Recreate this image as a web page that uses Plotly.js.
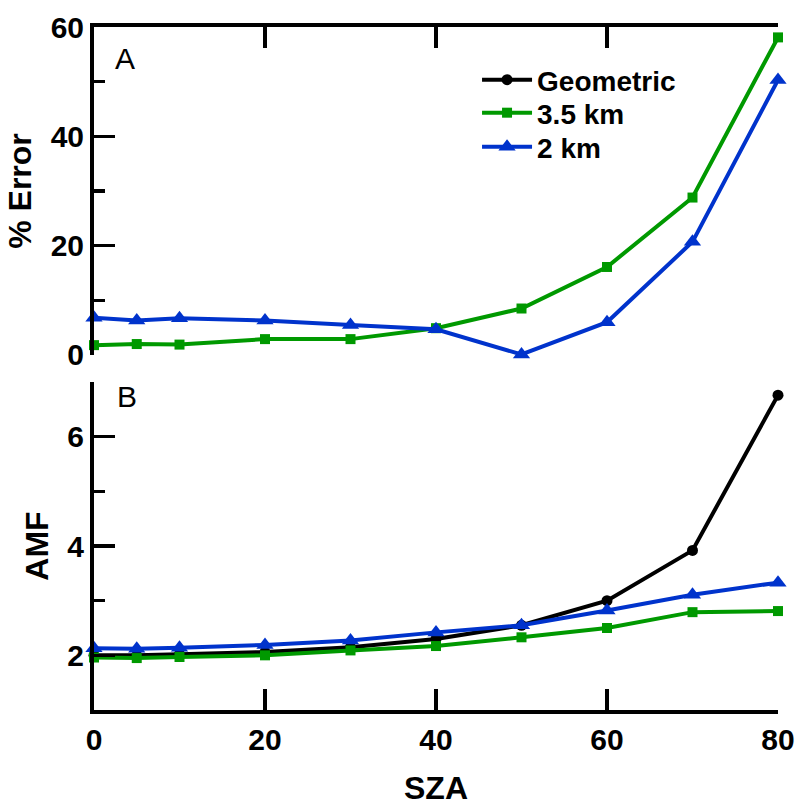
<!DOCTYPE html>
<html>
<head>
<meta charset="utf-8">
<script src="https://cdn.plot.ly/plotly-3.0.1.min.js"></script>
<style>html,body{margin:0;padding:0;background:#fff;}#chart{width:796px;height:806px;}</style>
</head>
<body>
<div id="chart"></div>
<script>
// SZA values (degrees)
const sza = [0, 5, 10, 20, 30, 40, 50, 60, 70, 80];

// Panel A: % Error
const errorKm35 = [1.8, 2.0, 1.9, 2.9, 2.9, 4.9, 8.5, 16.1, 28.8, 58.1];
const errorKm2  = [6.8, 6.3, 6.7, 6.3, 5.5, 4.7, 0.1, 6.0, 20.7, 50.3];

// Panel B: AMF
const amfGeometric = [2.0, 2.0, 2.02, 2.06, 2.15, 2.3, 2.55, 3.0, 3.92, 6.76];
const amfKm35      = [1.96, 1.95, 1.97, 2.0, 2.09, 2.17, 2.33, 2.5, 2.79, 2.81];
const amfKm2       = [2.13, 2.12, 2.14, 2.19, 2.27, 2.42, 2.55, 2.82, 3.11, 3.33];

const seriesNames = ["Geometric", "3.5 km", "2 km"];
const xTicks = [0, 20, 40, 60, 80];

const BLACK = "#000000", GREEN = "#009900", BLUE = "#0033cc";
const FONT = "Liberation Sans, Arial, Helvetica, sans-serif";
const LW = 4;

const traces = [
  {x: sza, y: amfGeometric, xaxis: "x", yaxis: "y2", name: seriesNames[0], mode: "lines+markers", legend: "legend",
   line: {color: BLACK, width: LW}, marker: {symbol: "circle", size: 11, color: BLACK}, cliponaxis: false},
  {x: sza, y: amfKm35, xaxis: "x", yaxis: "y2", name: seriesNames[1], mode: "lines+markers", legend: "legend2",
   line: {color: GREEN, width: LW}, marker: {symbol: "square", size: 10, color: GREEN}, cliponaxis: false},
  {x: sza, y: amfKm2, xaxis: "x", yaxis: "y2", name: seriesNames[2], mode: "lines+markers", legend: "legend3",
   line: {color: BLUE, width: LW}, marker: {symbol: "triangle-up", size: 15, color: BLUE}, cliponaxis: false},
  {x: sza, y: errorKm35, xaxis: "x2", yaxis: "y", name: seriesNames[1], mode: "lines+markers", showlegend: false,
   line: {color: GREEN, width: LW}, marker: {symbol: "square", size: 10, color: GREEN}, cliponaxis: false},
  {x: sza, y: errorKm2, xaxis: "x2", yaxis: "y", name: seriesNames[2], mode: "lines+markers", showlegend: false,
   line: {color: BLUE, width: LW}, marker: {symbol: "triangle-up", size: 15, color: BLUE}, cliponaxis: false}
];

const tickFont = {family: FONT, size: 30, color: "#000", weight: "bold"};
const titleFont = {family: FONT, size: 32, color: "#000", weight: "bold"};
const TOPDOM = [0.5198, 1];
const BOTDOM = [0, 0.4802];

const baseAxis = {showgrid: false, zeroline: false, showline: true, linecolor: "#000", linewidth: 4,
  ticks: "inside", tickcolor: "#000", tickwidth: 3.5, ticklen: 21, tickfont: tickFont};

function legendAt(y) {
  return {x: 0.56, y: y, xanchor: "left", yanchor: "middle", bgcolor: "rgba(0,0,0,0)",
    font: {family: FONT, size: 28, color: "#000", weight: "bold"}, itemwidth: 50};
}

const layout = {
  width: 796, height: 806,
  margin: {l: 94, r: 18, t: 27, b: 96},
  paper_bgcolor: "#fff", plot_bgcolor: "#fff",
  showlegend: true,
  legend: legendAt(0.9224),
  legend2: legendAt(0.8741),
  legend3: legendAt(0.8243),
  xaxis: Object.assign({}, baseAxis, {anchor: "y2", range: [0, 80], tickvals: xTicks,
    title: {text: "SZA", font: titleFont, standoff: 34}}),
  xaxis2: Object.assign({}, baseAxis, {anchor: "y", side: "top", range: [0, 80], tickvals: xTicks,
    showticklabels: false, matches: "x"}),
  yaxis: Object.assign({}, baseAxis, {domain: TOPDOM, anchor: "x2", range: [0, 60], tickvals: [0, 20, 40, 60],
    minor: {tickvals: [10, 30, 50], ticks: "inside", ticklen: 11, tickwidth: 3.5, tickcolor: "#000"},
    title: {text: "% Error", font: titleFont, standoff: 10}}),
  yaxis3: Object.assign({}, baseAxis, {overlaying: "y", side: "right", anchor: "x2", range: [0, 60],
    tickvals: [0, 10, 20, 30, 40, 50, 60], showticklabels: false}),
  yaxis2: Object.assign({}, baseAxis, {domain: BOTDOM, anchor: "x", range: [1, 7], tickvals: [2, 4, 6],
    minor: {tickvals: [3, 5, 7], ticks: "inside", ticklen: 11, tickwidth: 3.5, tickcolor: "#000"},
    title: {text: "AMF", font: titleFont, standoff: 10}}),
  yaxis4: Object.assign({}, baseAxis, {overlaying: "y2", side: "right", anchor: "x", range: [1, 7],
    tickvals: [1, 2, 3, 4, 5, 6, 7], showticklabels: false}),
  annotations: [
    {text: "A", xref: "x2 domain", yref: "y domain", x: 0.028, y: 0.96, xanchor: "left", yanchor: "top",
     showarrow: false, font: {family: FONT, size: 30, color: "#000"}},
    {text: "B", xref: "x domain", yref: "y2 domain", x: 0.03, y: 1.012, xanchor: "left", yanchor: "top",
     showarrow: false, font: {family: FONT, size: 30, color: "#000"}}
  ]
};

Plotly.newPlot("chart", traces, layout, {displayModeBar: false, staticPlot: true});
</script>
</body>
</html>
